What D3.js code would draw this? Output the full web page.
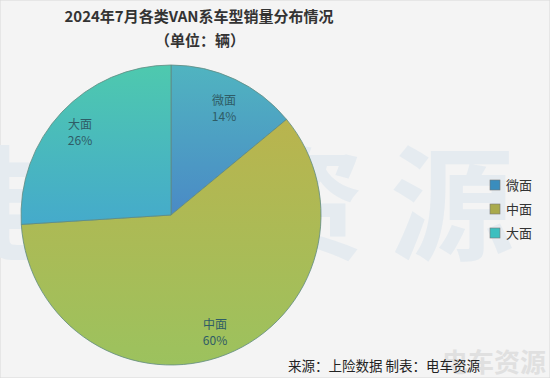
<!DOCTYPE html>
<html>
<head>
<meta charset="utf-8">
<script src="https://cdn.jsdelivr.net/npm/d3@7"></script>
<style>
  body { margin: 0; background: #f4f4f4; }
  svg { display: block; font-family: "Noto Sans CJK SC", "Noto Sans", sans-serif; }
</style>
</head>
<body>
<svg id="chart"></svg>
<script>
const categories = ["微面", "中面", "大面"];
const shares = [14, 60, 26];
const legendColors = ["#3a8dbd", "#a9aa4c", "#3cbfbf"];
const gradTop = ["#50b4c0", "#b9b44e", "#4ec9ae"];
const gradBottom = ["#4a8ac6", "#9cc25e", "#45aacb"];

const width = 550, height = 378;
const svg = d3.select("#chart").attr("width", width).attr("height", height);

svg.append("rect").attr("width", width).attr("height", height).attr("fill", "#f4f4f4")
  .attr("stroke", "#d8d8d8");

// faint watermark behind the chart
svg.append("text")
  .attr("x", -60).attr("y", 250)
  .style("font-size", "124px").style("font-weight", "bold")
  .style("letter-spacing", "26px")
  .style("fill", "#e5ebf0")
  .text("电车资源");

// title
svg.append("text")
  .attr("x", 199).attr("y", 22)
  .attr("text-anchor", "middle")
  .style("font-size", "15px").style("font-weight", "bold").style("fill", "#333")
  .text("2024年7月各类VAN系车型销量分布情况");
svg.append("text")
  .attr("x", 200).attr("y", 46)
  .attr("text-anchor", "middle")
  .style("font-size", "15px").style("font-weight", "bold").style("fill", "#333")
  .text("（单位：辆）");

const data = categories.map((c, i) => ({ name: c, value: shares[i], i }));

const defs = svg.append("defs");
data.forEach(d => {
  const g = defs.append("linearGradient")
    .attr("id", "g" + d.i).attr("x1", 0).attr("y1", 0).attr("x2", 0).attr("y2", 1);
  g.append("stop").attr("offset", "0%").attr("stop-color", gradTop[d.i]);
  g.append("stop").attr("offset", "100%").attr("stop-color", gradBottom[d.i]);
});

const cx = 171, cy = 215, r = 150;
const pie = d3.pie().sort(null).value(d => d.value);
const arc = d3.arc().innerRadius(0).outerRadius(r);
const arcs = pie(data);

const g = svg.append("g").attr("transform", `translate(${cx},${cy})`);
g.selectAll("path")
  .data(arcs)
  .enter().append("path")
  .attr("d", arc)
  .attr("fill", d => `url(#g${d.data.i})`)
  .attr("stroke", "#5f8a80")
  .attr("stroke-width", 0.8);

// slice labels (offsets from centre)
const labelXY = [[53, -110], [44, 114], [-91, -86]];
arcs.forEach((a, k) => {
  const [x, y] = labelXY[k];
  const t = g.append("text")
    .attr("transform", `translate(${x},${y})`)
    .attr("text-anchor", "middle")
    .style("font-size", "12px").style("fill", "#2f5c66");
  t.append("tspan").attr("x", 0).attr("dy", 0).text(a.data.name);
  t.append("tspan").attr("x", 0).attr("dy", 16).text(a.data.value + "%");
});

// legend
const legend = svg.append("g").attr("transform", "translate(490,180)");
categories.forEach((c, i) => {
  const row = legend.append("g").attr("transform", `translate(0,${i * 24})`);
  row.append("rect").attr("width", 10).attr("height", 10)
    .attr("fill", legendColors[i]).attr("stroke", "#777").attr("stroke-width", 0.6);
  row.append("text").attr("x", 16).attr("y", 10)
    .style("font-size", "13px").style("fill", "#333").text(c);
});

// source
svg.append("text")
  .attr("x", 494).attr("y", 372)
  .attr("text-anchor", "middle")
  .style("font-size", "26px").style("font-weight", "bold").style("fill", "#e0e0e0")
  .text("电车资源");
svg.append("text")
  .attr("x", 288).attr("y", 371)
  .style("font-size", "13.5px").style("fill", "#222")
  .text("来源：上险数据 制表：电车资源");
</script>
</body>
</html>
